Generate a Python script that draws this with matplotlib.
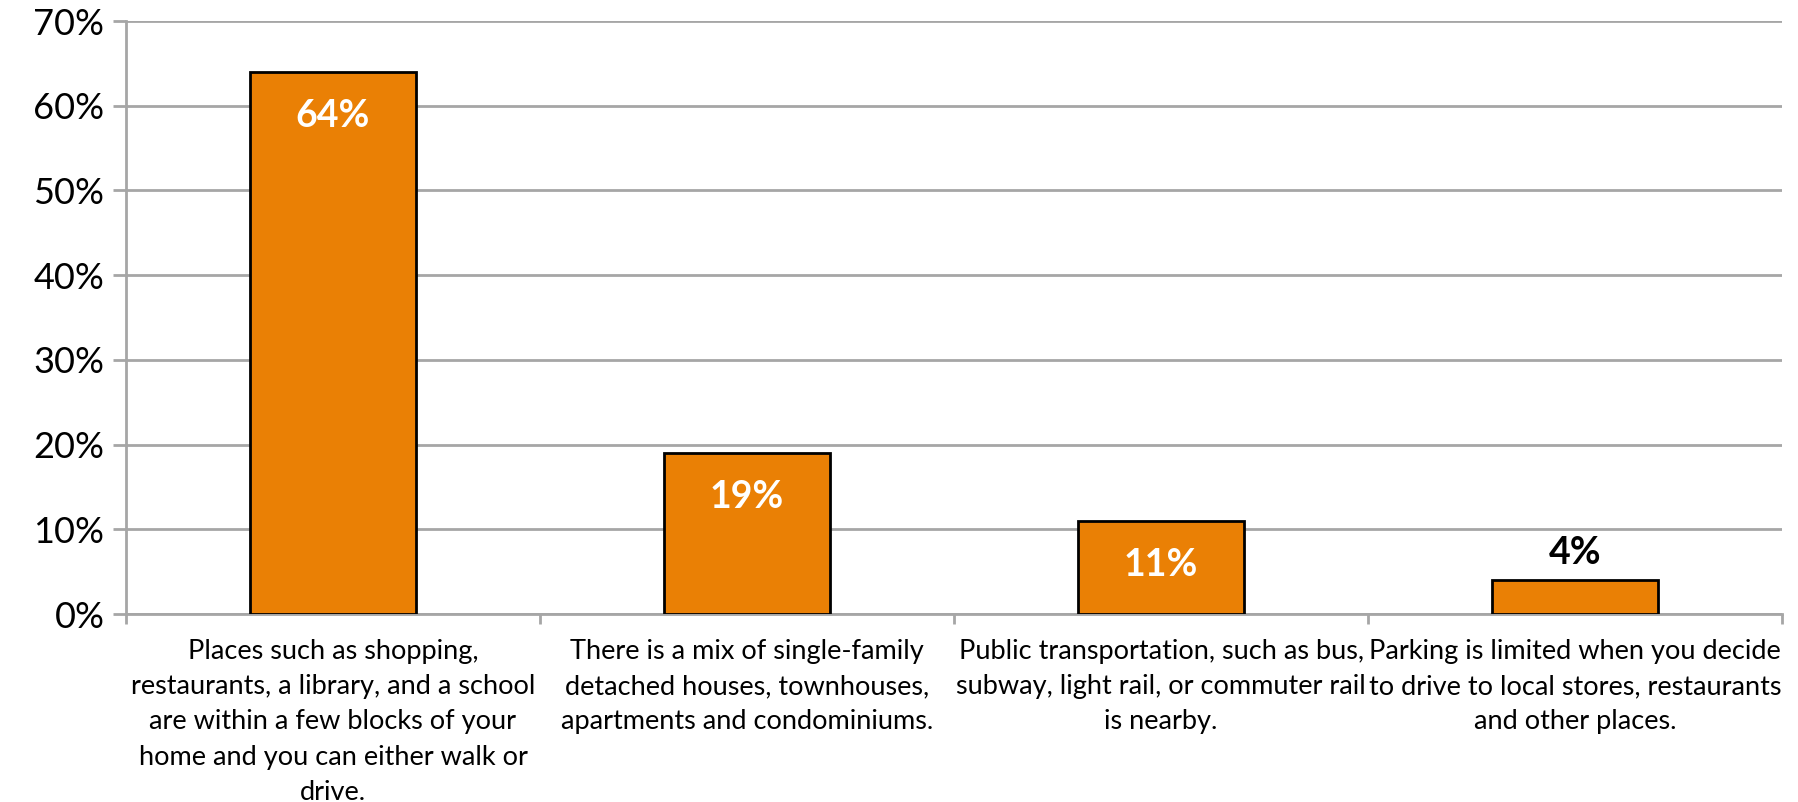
import matplotlib
matplotlib.use("Agg")
import matplotlib.pyplot as plt
from matplotlib.ticker import FixedLocator, PercentFormatter

categories = [
    "Places such as shopping,\nrestaurants, a library, and a school\nare within a few blocks of your\nhome and you can either walk or\ndrive.",
    "There is a mix of single-family\ndetached houses, townhouses,\napartments and condominiums.",
    "Public transportation, such as bus,\nsubway, light rail, or commuter rail\nis nearby.",
    "Parking is limited when you decide\nto drive to local stores, restaurants\nand other places.",
]
values = [64, 19, 11, 4]
y_ticks = [0, 10, 20, 30, 40, 50, 60, 70]

BAR = "#EA8005"
GRID = "#A6A6A6"
FONT = "Lato"

fig = plt.figure(figsize=(17.99, 8.02), dpi=100)
ax = fig.add_axes([0.070, 0.2344, 0.9906 - 0.070, 0.9738 - 0.2344])

x = list(range(len(values)))
bars = ax.bar(x, values, width=0.4, color=BAR, edgecolor="black", linewidth=2, zorder=3)

ax.set_xlim(-0.5, len(values) - 0.5)
ax.set_ylim(0, 70)
ax.set_yticks(y_ticks)
ax.yaxis.set_major_formatter(PercentFormatter(decimals=0))
ax.grid(axis="y", color=GRID, linewidth=2, zorder=0)
ax.set_axisbelow(True)

for s in ["top", "right"]:
    ax.spines[s].set_visible(False)
for s in ["left", "bottom"]:
    ax.spines[s].set_color(GRID)
    ax.spines[s].set_linewidth(2)

ax.tick_params(axis="y", length=9.5, width=2, color=GRID, pad=6, labelsize=26)
for t in ax.get_yticklabels():
    t.set_fontfamily(FONT)

ax.set_xticks(x)
ax.set_xticklabels(categories, fontsize=19.5, fontfamily=FONT, linespacing=1.51)
ax.xaxis.set_minor_locator(FixedLocator([i - 0.5 for i in range(len(values) + 1)]))
ax.tick_params(axis="x", which="major", length=0, pad=18)
ax.tick_params(axis="x", which="minor", length=7, width=2, color=GRID)

for xi, v in zip(x, values):
    if v >= 8:
        ax.annotate(f"{v}%", (xi, v), xytext=(0, -32), textcoords="offset points",
                    ha="center", va="center", color="white", fontsize=27,
                    fontweight="bold", fontfamily=FONT, zorder=4)
    else:
        ax.annotate(f"{v}%", (xi, v), xytext=(0, 19.5), textcoords="offset points",
                    ha="center", va="center", color="black", fontsize=27,
                    fontweight="bold", fontfamily=FONT, zorder=4)

fig.savefig("out.png", dpi=100, facecolor="white")
